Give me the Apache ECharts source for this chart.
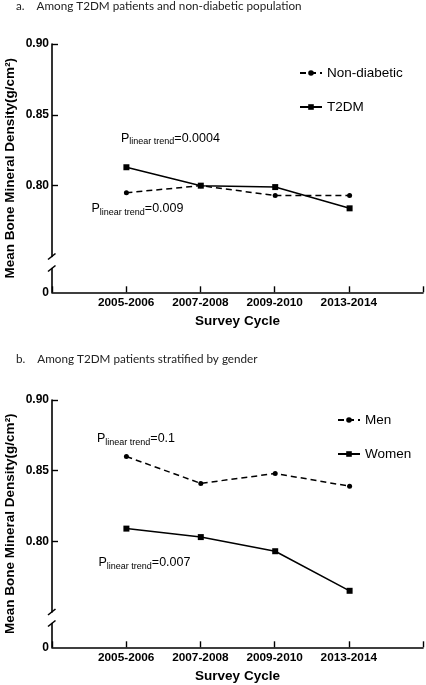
<!DOCTYPE html>
<html>
<head>
<meta charset="utf-8">
<script src="https://cdn.jsdelivr.net/npm/echarts@6/dist/echarts.min.js"></script>
<style>
  html, body { margin: 0; padding: 0; background: #fff; }
  #bmd { width: 426px; height: 685px; }
</style>
</head>
<body>
<div id="bmd"></div>
<script>
// survey cycles (x axis) and padded category list for the axis ends
const cycles = ['2005-2006', '2007-2008', '2009-2010', '2013-2014'];
const axisCats = [''].concat(cycles, ['']);

// panel a: T2DM vs non-diabetic
const nonDiabetic = [0.795, 0.800, 0.793, 0.793];
const t2dm = [0.813, 0.800, 0.799, 0.784];
// panel b: T2DM by gender
const men = [0.860, 0.841, 0.848, 0.839];
const women = [0.809, 0.803, 0.793, 0.765];

const yTicks = [0.80, 0.85, 0.90];
const pTrendA = ['0.0004', '0.009'];
const pTrendB = ['0.1', '0.007'];

!(function (window) {
    const { echarts } = window;
    const chart = echarts.init(document.getElementById('bmd'));

    const AXIS_FONT = '"Liberation Sans", Arial, sans-serif';
    const TITLE_FONT = 'Lato, "Open Sans", sans-serif';
    const LEFT = 52;
    const RIGHT = 2;
    // top = upper (broken) part, stub = the little piece holding 0
    const panels = [
        { top: 44, height: 212.5, stubTop: 268.5, stubHeight: 23.8 },
        { top: 400, height: 212, stubTop: 623.5, stubHeight: 23.8 },
    ];

    const axisLine = { show: true, lineStyle: { color: '#000', width: 1.6 } };

    const grid = [];
    const xAxis = [];
    const yAxis = [];
    panels.forEach((p) => {
        grid.push({ left: LEFT, right: RIGHT, top: p.top, height: p.height });
        grid.push({ left: LEFT, right: RIGHT, top: p.stubTop, height: p.stubHeight });
    });
    panels.forEach((p, i) => {
        xAxis.push({
            gridIndex: i * 2,
            type: 'category',
            data: axisCats,
            boundaryGap: false,
            show: false,
        });
        xAxis.push({
            gridIndex: i * 2 + 1,
            type: 'category',
            data: axisCats,
            boundaryGap: false,
            axisLine,
            axisTick: { show: true, inside: true, length: 6, interval: 0, lineStyle: { color: '#000', width: 1.4 } },
            axisLabel: {
                interval: 0,
                margin: 4,
                color: '#000',
                fontFamily: AXIS_FONT,
                fontWeight: 'bold',
                fontSize: 11.8,
            },
            name: 'Survey Cycle',
            nameLocation: 'middle',
            nameGap: 22,
            nameTextStyle: { color: '#000', fontFamily: AXIS_FONT, fontWeight: 'bold', fontSize: 13.5 },
        });
        yAxis.push({
            gridIndex: i * 2,
            type: 'value',
            min: 0.75,
            max: 0.90,
            interval: 0.05,
            axisLine,
            splitLine: { show: false },
            axisTick: { show: true, inside: true, length: 6, customValues: yTicks, lineStyle: { color: '#000', width: 1.4 } },
            axisLabel: {
                customValues: yTicks,
                margin: 3,
                color: '#000',
                fontFamily: AXIS_FONT,
                fontWeight: 'bold',
                fontSize: 12,
                formatter: v => v.toFixed(2),
            },
        });
        yAxis.push({
            gridIndex: i * 2 + 1,
            type: 'value',
            min: 0,
            max: 0.02,
            axisLine,
            splitLine: { show: false },
            axisTick: { show: false },
            axisLabel: {
                customValues: [0],
                margin: 3,
                color: '#000',
                fontFamily: AXIS_FONT,
                fontWeight: 'bold',
                fontSize: 12,
            },
        });
    });

    const lineSeries = (name, values, panel, dashed) => ({
        name,
        type: 'line',
        xAxisIndex: panel * 2,
        yAxisIndex: panel * 2,
        data: cycles.map((c, i) => [c, values[i]]),
        symbol: dashed ? 'circle' : 'rect',
        symbolSize: dashed ? 5 : 6,
        color: '#000',
        itemStyle: { color: '#000' },
        lineStyle: { color: '#000', width: 1.5, type: dashed ? [6, 4] : 'solid' },
        animation: false,
    });

    const legend = (names, left, top) => ({
        data: names,
        orient: 'vertical',
        left,
        top,
        padding: 0,
        itemWidth: 22,
        itemHeight: 7,
        itemGap: 19,
        selectedMode: false,
        textStyle: { color: '#000', fontFamily: AXIS_FONT, fontSize: 13.5, lineHeight: 15 },
    });

    // P (linear trend) labels with subscript
    const pLabel = (value, x, y) => ({
        type: 'text',
        x,
        y,
        style: {
            text: `{p|P}{s|linear trend}{p|=${value}}`,
            align: 'left',
            verticalAlign: 'middle',
            fill: '#000',
            rich: {
                p: { fontFamily: AXIS_FONT, fontSize: 12.5, lineHeight: 16, color: '#000' },
                s: { fontFamily: AXIS_FONT, fontSize: 9, lineHeight: 9, verticalAlign: 'bottom', color: '#000' },
            },
        },
    });

    const yName = y => ({
        type: 'text',
        x: 10,
        y,
        rotation: Math.PI / 2,
        style: {
            text: 'Mean Bone Mineral Density(g/cm²)',
            align: 'center',
            verticalAlign: 'middle',
            fill: '#000',
            fontFamily: AXIS_FONT,
            fontWeight: 'bold',
            fontSize: 13.5,
        },
    });

    // axis break slashes at the ends of the two axis pieces
    const slash = y => ({
        type: 'line',
        shape: { x1: LEFT - 4, y1: y + 3, x2: LEFT + 3.5, y2: y - 3 },
        style: { stroke: '#000', lineWidth: 1.6 },
    });

    const graphic = [];
    panels.forEach((p) => {
        graphic.push(slash(p.top + p.height));
        graphic.push(slash(p.stubTop));
        graphic.push(yName((p.top + p.stubTop + p.stubHeight) / 2));
    });
    graphic.push(pLabel(pTrendA[0], 121, 138.5));
    graphic.push(pLabel(pTrendA[1], 91.5, 209));
    graphic.push(pLabel(pTrendB[0], 97, 439));
    graphic.push(pLabel(pTrendB[1], 98.5, 563));

    const titleStyle = { color: '#222', fontFamily: TITLE_FONT, fontWeight: 'normal', fontSize: 11.7 };

    const option = {
        backgroundColor: '#fff',
        animation: false,
        title: [
            { text: 'a.    Among T2DM patients and non-diabetic population', left: 16, top: 0, padding: 0, textStyle: titleStyle },
            { text: 'b.    Among T2DM patients stratified by gender', left: 16, top: 353, padding: 0, textStyle: titleStyle },
        ],
        legend: [
            legend(['Non-diabetic', 'T2DM'], 299, 65.5),
            legend(['Men', 'Women'], 337, 412.5),
        ],
        grid,
        xAxis,
        yAxis,
        series: [
            lineSeries('Non-diabetic', nonDiabetic, 0, true),
            lineSeries('T2DM', t2dm, 0, false),
            lineSeries('Men', men, 1, true),
            lineSeries('Women', women, 1, false),
        ],
        graphic,
    };

    chart.setOption(option);
}(window));
</script>
</body>
</html>
